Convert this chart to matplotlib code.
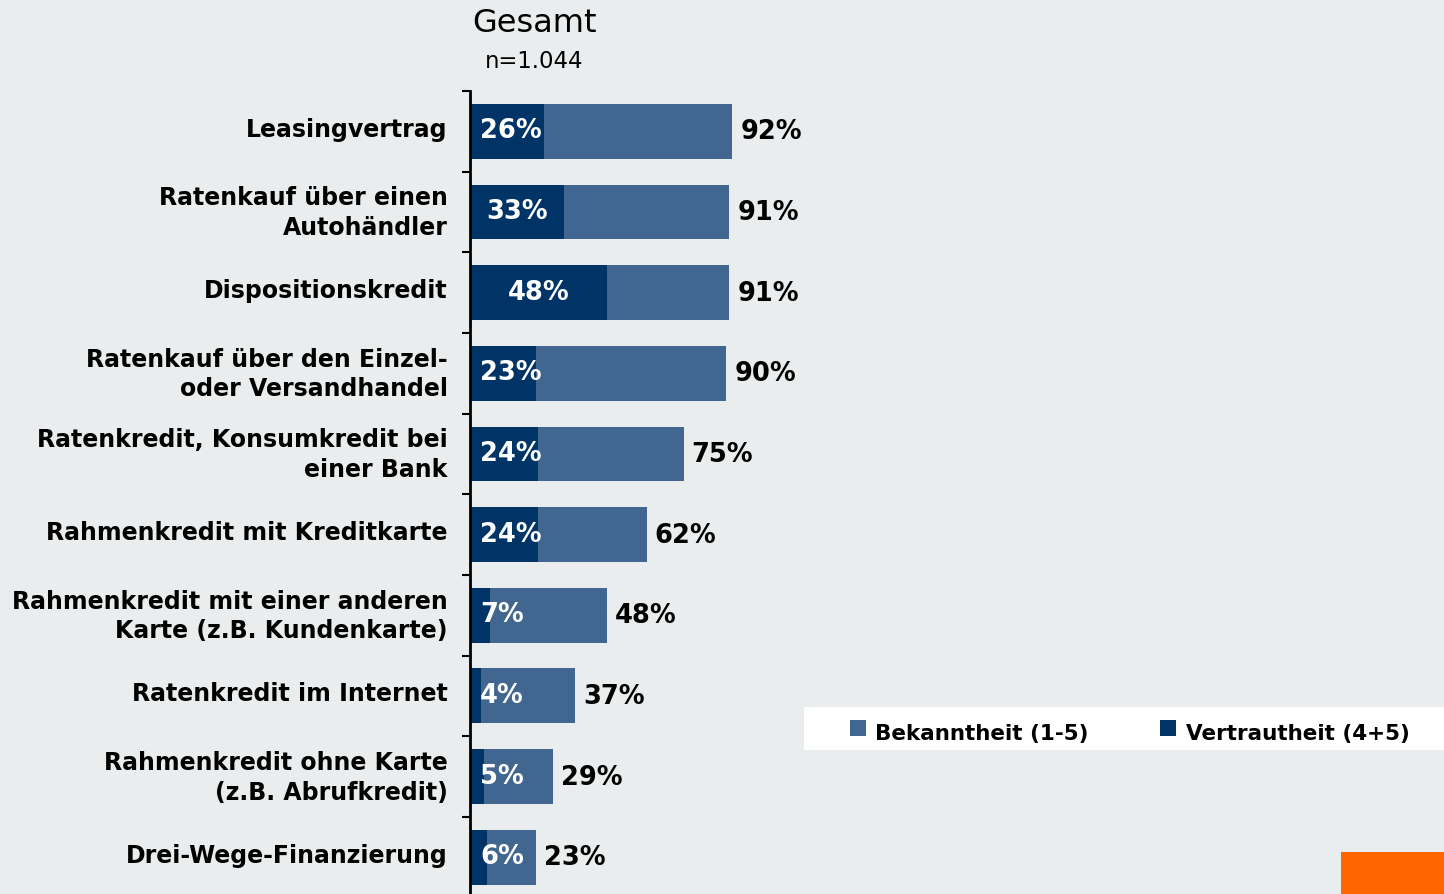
import matplotlib
matplotlib.use("Agg")
import matplotlib.pyplot as plt
from matplotlib.patches import Rectangle
from matplotlib.transforms import ScaledTranslation

plt.rcParams['font.family'] = 'DejaVu Sans'

# Daten (Werte in %)
kategorien = [
    "Leasingvertrag",
    "Ratenkauf über einen\nAutohändler",
    "Dispositionskredit",
    "Ratenkauf über den Einzel-\noder Versandhandel",
    "Ratenkredit, Konsumkredit bei\neiner Bank",
    "Rahmenkredit mit Kreditkarte",
    "Rahmenkredit mit einer anderen\nKarte (z.B. Kundenkarte)",
    "Ratenkredit im Internet",
    "Rahmenkredit ohne Karte\n(z.B. Abrufkredit)",
    "Drei-Wege-Finanzierung",
]
bekanntheit = [92, 91, 91, 90, 75, 62, 48, 37, 29, 23]
vertrautheit = [26, 33, 48, 23, 24, 24, 7, 4, 5, 6]

HELL = '#41668f'
DUNKEL = '#003366'
HINTERGRUND = '#e9edee'

W, H = 1444, 894
PX_PRO_PROZENT = 2.85
fig = plt.figure(figsize=(W / 100, H / 100), dpi=100, facecolor=HINTERGRUND)

# Achse: links bei x=470px
links, oben, unten = 470, 91, 897.5
ax = fig.add_axes([links / W, (H - unten) / H, 100 * PX_PRO_PROZENT / W, (unten - oben) / H])
ax.patch.set_alpha(0)

y = list(range(len(kategorien)))
ax.barh(y, bekanntheit, height=0.68, color=HELL)
ax.barh(y, vertrautheit, height=0.68, color=DUNKEL)

ax.set_xlim(0, 100)
ax.set_ylim(len(kategorien) - 0.5, -0.5)

for i in y:
    v = vertrautheit[i]
    txt = f"{v}%"
    # Label in der Mitte des dunklen Balkens, aber mind. 10px vom Rand
    halb_breite = 30.5 if v >= 10 else 23
    if v * PX_PRO_PROZENT / 2 - halb_breite > 10:
        ax.text(v / 2, i, txt, ha='center', va='center',
                color='white', fontsize=18.5, fontweight='bold')
    else:
        ax.annotate(txt, xy=(0, i), xytext=(10, 0),
                    textcoords='offset pixels', ha='left', va='center',
                    color='white', fontsize=18.5, fontweight='bold')
    ax.annotate(f"{bekanntheit[i]}%", xy=(bekanntheit[i], i), xytext=(8, -1),
                textcoords='offset pixels', ha='left', va='center',
                color='black', fontsize=18.5, fontweight='bold')

for s in ['top', 'right', 'bottom']:
    ax.spines[s].set_visible(False)
ax.spines['left'].set_linewidth(2)
ax.spines['left'].set_color('black')

ax.set_xticks([])
ax.set_yticks(y)
ax.set_yticklabels(kategorien, fontsize=17, fontweight='bold', linespacing=1.3)
ax.tick_params(axis='y', which='major', length=0, pad=16)
ax.set_yticks([i - 0.5 for i in range(len(kategorien) + 1)], minor=True)
ax.tick_params(axis='y', which='minor', length=6, width=1.5, color='black')
versatz = ScaledTranslation(0, 4 / 100, fig.dpi_scale_trans)
for lbl in ax.get_yticklabels():
    lbl.set_transform(lbl.get_transform() + versatz)

# Titel
fig.text(534 / W, 1 - 24 / H, "Gesamt", ha='center', va='center', fontsize=23)
fig.text(534 / W, 1 - 62 / H, "n=1.044", ha='center', va='center', fontsize=16.4)

# Legende
fig.add_artist(Rectangle((804 / W, 1 - 750 / H), (W - 804) / W, 43 / H,
                         transform=fig.transFigure, facecolor='white', edgecolor='none'))
fig.add_artist(Rectangle((850 / W, 1 - 736 / H), 16 / W, 16 / H,
                         transform=fig.transFigure, facecolor=HELL, edgecolor='none'))
fig.add_artist(Rectangle((1160 / W, 1 - 736 / H), 16 / W, 16 / H,
                         transform=fig.transFigure, facecolor=DUNKEL, edgecolor='none'))
fig.text(875 / W, 1 - 734 / H, "Bekanntheit (1-5)", ha='left', va='center',
         fontsize=15.5, fontweight='bold')
fig.text(1186 / W, 1 - 734 / H, "Vertrautheit (4+5)", ha='left', va='center',
         fontsize=15.5, fontweight='bold')

# oranges Feld unten rechts
fig.add_artist(Rectangle((1341 / W, 0), (W - 1341) / W, 42 / H,
                         transform=fig.transFigure, facecolor='#ff6600', edgecolor='none'))

fig.savefig("out.png", dpi=100, facecolor=HINTERGRUND)
